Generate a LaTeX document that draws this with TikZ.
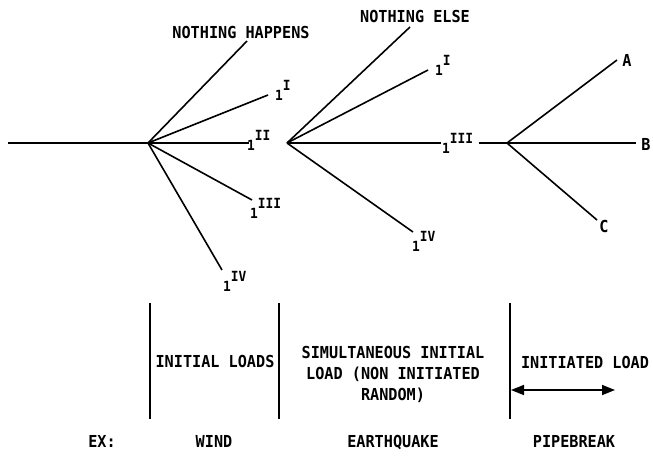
\documentclass[tikz,border=0pt]{standalone}
\usepackage{fontspec}
\usepackage{tikz}
\usetikzlibrary{arrows.meta}
\newfontfamily\tfont[FakeStretch=0.92]{DejaVu Sans Mono}
\newcommand{\lone}[1]{1\raisebox{10pt}{#1}}
\tikzset{
  txt/.style={font=\tfont\bfseries\fontsize{16.5}{21}\selectfont, inner sep=0pt},
  lbl/.style={font=\tfont\bfseries\fontsize{14}{16}\selectfont, inner sep=0pt, anchor=base west},
  br/.style={line width=1.6pt},
}
\begin{document}
\begin{tikzpicture}[x=1pt,y=-1pt,>={Triangle[length=13pt,width=10pt]}]
\useasboundingbox (0,0) rectangle (653,456);
\coordinate (s) at (8,143);
\coordinate (n1) at (148,143);
\coordinate (n2) at (287,143);
\coordinate (n3) at (507,143);
\coordinate (a1) at (247,41);
\coordinate (a2) at (268,95);
\coordinate (a3) at (249,143);
\coordinate (a4) at (252,200);
\coordinate (a5) at (222,270);
\coordinate (b1) at (410,27);
\coordinate (b2) at (428,70);
\coordinate (b3) at (441,143);
\coordinate (b4) at (413,232);
\coordinate (b5) at (479,143);
\coordinate (c1) at (617,60);
\coordinate (c2) at (636,143);
\coordinate (c3) at (597,220);

\node[txt, anchor=base] (happens) at (241,38) {NOTHING HAPPENS};
\node[lbl] (t1) at (275,100) {\lone{I}};
\node[lbl] (t2) at (247,150) {\lone{II}};
\node[lbl] (t3) at (250,218) {\lone{III}};
\node[lbl] (t4) at (223,291) {\lone{IV}};
\node[txt, anchor=base] (else) at (415,22) {NOTHING ELSE};
\node[lbl] (u1) at (435,75) {\lone{I}};
\node[lbl] (u2) at (442,153) {\lone{III}};
\node[lbl] (u3) at (412,251) {\lone{IV}};
\node[txt, anchor=base] (A) at (627,66) {A};
\node[txt, anchor=base] (B) at (646,150) {B};
\node[txt, anchor=base] (C) at (604,232) {C};

\draw[br] (s) -- (n1);
\draw[br] (n1) -- (a1);
\draw[br] (n1) -- (a2);
\draw[br] (n1) -- (a3);
\draw[br] (n1) -- (a4);
\draw[br] (n1) -- (a5);
\draw[br] (n2) -- (b1);
\draw[br] (n2) -- (b2);
\draw[br] (n2) -- (b3);
\draw[br] (n2) -- (b4);
\draw[br] (b5) -- (n3);
\draw[br] (n3) -- (c1);
\draw[br] (n3) -- (c2);
\draw[br] (n3) -- (c3);

\draw[br] (150,303) -- (150,419);
\draw[br] (279,303) -- (279,419);
\draw[br] (510,303) -- (510,419);
\node[txt, anchor=base] (init) at (215,367) {INITIAL LOADS};
\node[txt, anchor=north, align=center] (simul) at (393,346) {SIMULTANEOUS INITIAL\\LOAD (NON INITIATED\\RANDOM)};
\node[txt, anchor=base] (initd) at (585,368) {INITIATED LOAD};
\coordinate (p1) at (511,390);
\coordinate (p2) at (615,390);
\draw[<->, line width=1.6pt] (p1) -- (p2);

\node[txt, anchor=base] (ex) at (102,447) {EX:};
\node[txt, anchor=base] (wind) at (214,447) {WIND};
\node[txt, anchor=base] (quake) at (393,447) {EARTHQUAKE};
\node[txt, anchor=base] (pipe) at (574,447) {PIPEBREAK};
\end{tikzpicture}
\end{document}
